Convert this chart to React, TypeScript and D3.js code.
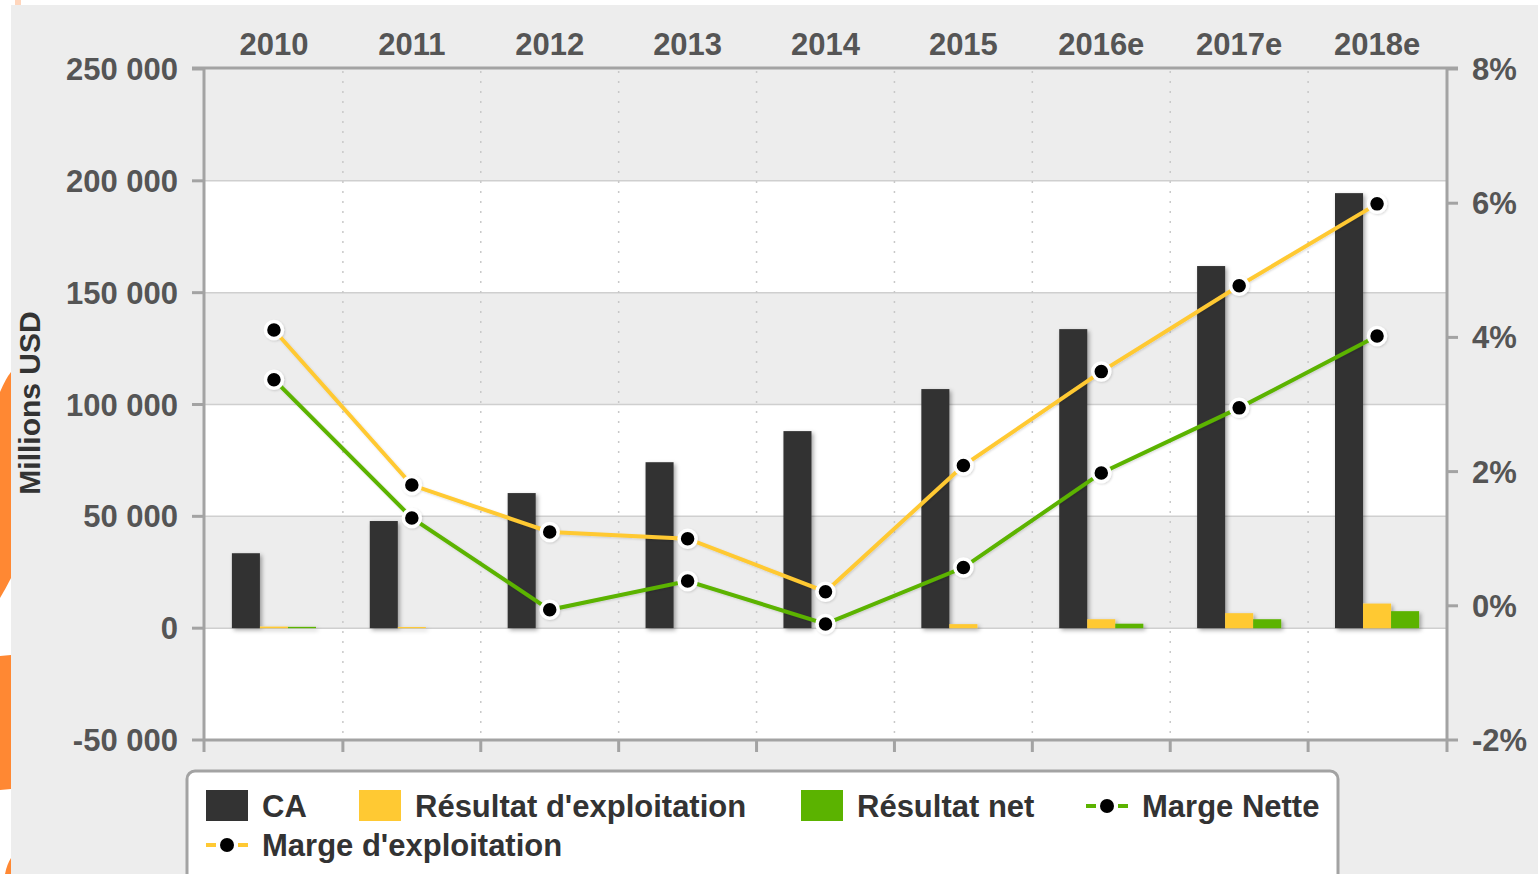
import React, { useRef, useEffect } from 'react';
import * as d3 from 'd3';

// data
const years = ['2010', '2011', '2012', '2013', '2014', '2015', '2016e', '2017e', '2018e'];
const caValues = [33500, 47900, 60400, 74200, 88100, 106900, 133700, 161900, 194500];
const resultatExpl = [700, 500, 0, 0, 0, 1800, 4000, 6700, 11000];
const resultatNet = [600, 0, 0, 0, 0, 0, 2000, 4000, 7600];
const margeExpl = [4.11, 1.8, 1.1, 1.0, 0.21, 2.09, 3.49, 4.77, 5.99];
const margeNette = [3.37, 1.31, -0.06, 0.37, -0.27, 0.57, 1.98, 2.95, 4.02];
const leftTicks = [-50000, 0, 50000, 100000, 150000, 200000, 250000];
const rightTicks = [-2, 0, 2, 4, 6, 8];

const W = 1538;
const H = 874;
const FONT = "'Liberation Sans', Arial, sans-serif";
const DARK = '#333333';
const YELLOW = '#ffc933';
const GREEN = '#5bb300';
const AXIS = '#a3a3a3';

const fmtLeft = (v: number) =>
  (v < 0 ? '-' : '') + d3.format(',')(Math.abs(v)).replace(/,/g, ' ');

const App = () => {
  const ref = useRef<SVGSVGElement>(null);

  useEffect(() => {
    const svg = d3.select(ref.current);
    svg.selectAll('*').remove();

    const left = 205, right = 1446, top = 69, bottom = 740;

    const x = d3.scaleBand().domain(years).range([left, right]);
    const bw = x.bandwidth();
    const x1 = d3.scaleBand().domain(['ca', 'expl', 'net']).range([bw * 0.195, bw * 0.805]);
    const y = d3.scaleLinear().domain([-50000, 250000]).range([bottom, top]);
    const y2 = d3.scaleLinear().domain([-2, 8]).range([bottom, top]);

    const defs = svg.append('defs');
    const f = defs.append('filter').attr('id', 'sh').attr('x', '-20%').attr('y', '-20%').attr('width', '150%').attr('height', '150%');
    f.append('feDropShadow').attr('dx', 2).attr('dy', 2).attr('stdDeviation', 2)
      .attr('flood-color', '#000').attr('flood-opacity', 0.35);
    const f2 = defs.append('filter').attr('id', 'lsh').attr('x', '-10%').attr('y', '-10%').attr('width', '120%').attr('height', '120%');
    f2.append('feDropShadow').attr('dx', 1).attr('dy', 1).attr('stdDeviation', 1)
      .attr('flood-color', '#000').attr('flood-opacity', 0.15);

    // page background + left decoration
    svg.append('rect').attr('width', W).attr('height', H).attr('fill', '#ededed');
    svg.append('rect').attr('width', 11).attr('height', H).attr('fill', '#fff');
    svg.append('rect').attr('width', W).attr('height', 5).attr('fill', '#fff');
    svg.append('rect').attr('x', 15).attr('width', 6).attr('height', 5).attr('fill', '#ffd6bd');
    svg.append('path').attr('d', 'M0,392 Q6,378 11,372 L11,578 Q6,588 0,598 Z').attr('fill', '#ff8833');
    svg.append('path').attr('d', 'M0,656 L11,655 L11,789 L0,790 Z').attr('fill', '#ff8833');
    svg.append('path').attr('d', 'M5,874 Q7,864 11,858 L11,874 Z').attr('fill', '#ff8833');

    // alternating bands
    for (let i = 0; i < leftTicks.length - 1; i++) {
      const lo = leftTicks[i], hi = leftTicks[i + 1];
      svg.append('rect')
        .attr('x', left).attr('y', y(hi))
        .attr('width', right - left).attr('height', y(lo) - y(hi))
        .attr('fill', (lo / 50000) % 2 === 0 ? '#ededed' : '#ffffff');
    }

    // grid
    leftTicks.slice(1, -1).forEach(t => {
      svg.append('line')
        .attr('x1', left).attr('x2', right).attr('y1', y(t)).attr('y2', y(t))
        .attr('stroke', '#cfcfcf').attr('stroke-width', 1.5);
    });
    years.slice(1).forEach(yr => {
      const xx = x(yr)!;
      svg.append('line')
        .attr('x1', xx).attr('x2', xx).attr('y1', top + 2).attr('y2', bottom)
        .attr('stroke', '#c8c8c8').attr('stroke-width', 1.5).attr('stroke-dasharray', '2 8');
    });

    // bars
    const bars = svg.append('g').attr('filter', 'url(#sh)');
    const series: [string, number[], string][] = [
      ['ca', caValues, DARK],
      ['expl', resultatExpl, YELLOW],
      ['net', resultatNet, GREEN],
    ];
    series.forEach(([key, vals, color]) => {
      vals.forEach((v, i) => {
        if (v === 0) return;
        const x0 = x(years[i])! + x1(key)!;
        bars.append('rect')
          .attr('x', x0).attr('width', x1.bandwidth())
          .attr('y', y(Math.max(0, v))).attr('height', Math.abs(y(v) - y(0)))
          .attr('fill', color);
      });
    });

    // axes
    const ax = svg.append('g').attr('stroke', AXIS).attr('stroke-width', 3);
    ax.append('line').attr('x1', 192).attr('x2', 1458).attr('y1', top - 1).attr('y2', top - 1);
    ax.append('line').attr('x1', left - 1).attr('x2', left - 1).attr('y1', top - 1).attr('y2', 752);
    ax.append('line').attr('x1', right + 1).attr('x2', right + 1).attr('y1', top - 1).attr('y2', 752);
    ax.append('line').attr('x1', left - 1).attr('x2', right + 1).attr('y1', bottom).attr('y2', bottom);
    leftTicks.forEach(t => {
      ax.append('line').attr('x1', 192).attr('x2', left).attr('y1', y(t)).attr('y2', y(t));
    });
    rightTicks.forEach(t => {
      ax.append('line').attr('x1', right).attr('x2', 1458).attr('y1', y2(t)).attr('y2', y2(t));
    });
    years.slice(1).forEach(yr => {
      ax.append('line').attr('x1', x(yr)!).attr('x2', x(yr)!).attr('y1', bottom).attr('y2', 752);
    });

    // margin lines
    const line = d3.line<number>()
      .x((_, i) => x(years[i])! + bw / 2)
      .y(d => y2(d));
    const lines = svg.append('g').attr('filter', 'url(#lsh)');
    [[margeNette, GREEN], [margeExpl, YELLOW]].forEach(([vals, color]) => {
      lines.append('path')
        .attr('d', line(vals as number[]))
        .attr('fill', 'none').attr('stroke', color as string).attr('stroke-width', 4);
    });
    [margeNette, margeExpl].forEach(vals => {
      vals.forEach((v, i) => {
        lines.append('circle')
          .attr('cx', x(years[i])! + bw / 2).attr('cy', y2(v)).attr('r', 8.5)
          .attr('fill', '#000').attr('stroke', '#fff').attr('stroke-width', 3.5);
      });
    });

    // labels
    const txt = svg.append('g').attr('font-family', FONT).attr('font-weight', 'bold')
      .attr('font-size', 31).attr('fill', '#555');
    years.forEach(yr => {
      txt.append('text').attr('x', x(yr)! + bw / 2).attr('y', 55)
        .attr('text-anchor', 'middle').text(yr);
    });
    leftTicks.forEach(t => {
      txt.append('text').attr('x', 178).attr('y', y(t) + 11)
        .attr('text-anchor', 'end').text(fmtLeft(t));
    });
    rightTicks.forEach(t => {
      txt.append('text').attr('x', 1472).attr('y', y2(t) + 11).text(`${t}%`);
    });
    svg.append('text')
      .attr('transform', 'translate(40,403) rotate(-90)')
      .attr('text-anchor', 'middle').attr('font-family', FONT).attr('font-weight', 'bold')
      .attr('font-size', 30).attr('fill', DARK).text('Millions USD');

    // legend
    svg.append('rect')
      .attr('x', 187).attr('y', 771).attr('width', 1151).attr('height', 140).attr('rx', 8)
      .attr('fill', '#fff').attr('stroke', AXIS).attr('stroke-width', 3);
    const lg = svg.append('g').attr('font-family', FONT).attr('font-weight', 'bold')
      .attr('font-size', 31).attr('fill', DARK);
    const swatches: [number, string, string][] = [
      [206, DARK, 'CA'],
      [359, YELLOW, "Résultat d'exploitation"],
      [801, GREEN, 'Résultat net'],
    ];
    swatches.forEach(([lx, color, label]) => {
      lg.append('rect').attr('x', lx).attr('y', 790).attr('width', 42).attr('height', 31).attr('fill', color);
      lg.append('text').attr('x', lx + 56).attr('y', 817).text(label);
    });
    const lineItems: [number, number, string, string][] = [
      [1086, 806, GREEN, 'Marge Nette'],
      [206, 845, YELLOW, "Marge d'exploitation"],
    ];
    lineItems.forEach(([lx, ly, color, label]) => {
      lg.append('line').attr('x1', lx).attr('x2', lx + 10).attr('y1', ly).attr('y2', ly)
        .attr('stroke', color).attr('stroke-width', 4);
      lg.append('line').attr('x1', lx + 32).attr('x2', lx + 42).attr('y1', ly).attr('y2', ly)
        .attr('stroke', color).attr('stroke-width', 4);
      lg.append('circle').attr('cx', lx + 21).attr('cy', ly).attr('r', 7).attr('fill', '#000');
      lg.append('text').attr('x', lx + 56).attr('y', ly + 11).text(label);
    });
  }, []);

  return (
    <div style={{ position: 'absolute', left: 0, top: 0 }}>
      <svg ref={ref} width={W} height={H} style={{ display: 'block' }}></svg>
    </div>
  );
};

export default App;
